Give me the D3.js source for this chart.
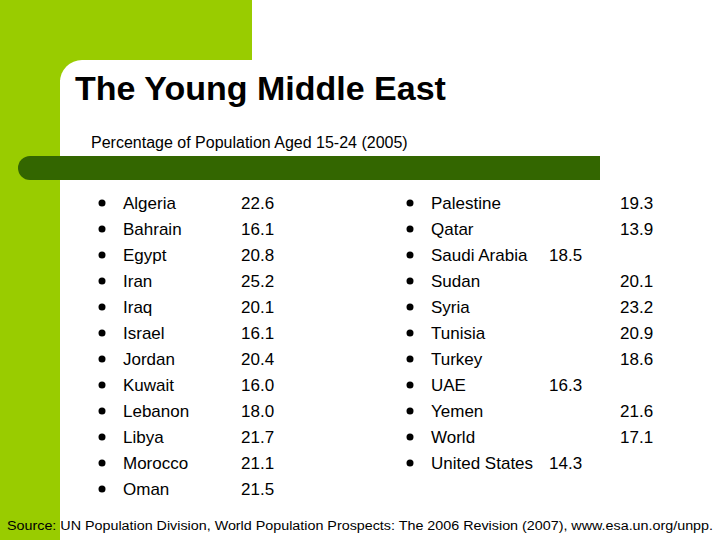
<!DOCTYPE html>
<html><head><meta charset="utf-8">
<script src="https://cdn.jsdelivr.net/npm/d3@7"></script>
<style>body{margin:0}svg{display:block}text{font-family:"Liberation Sans",Arial,sans-serif}</style>
</head><body><svg id="c" width="720" height="540"></svg>
<script>
const leftNames=["Algeria","Bahrain","Egypt","Iran","Iraq","Israel","Jordan","Kuwait","Lebanon","Libya","Morocco","Oman"];
const leftValues=["22.6","16.1","20.8","25.2","20.1","16.1","20.4","16.0","18.0","21.7","21.1","21.5"];
const rightNames=["Palestine","Qatar","Saudi Arabia","Sudan","Syria","Tunisia","Turkey","UAE","Yemen","World","United States"];
const rightValues=["19.3","13.9","18.5","20.1","23.2","20.9","18.6","16.3","21.6","17.1","14.3"];
const rightInline=[false,false,true,false,false,false,false,true,false,false,true];

const svg=d3.select("#c");
svg.append("rect").attr("width",720).attr("height",540).attr("fill","#fff");
svg.append("rect").attr("x",0).attr("y",0).attr("width",252).attr("height",80).attr("fill","#99cc00");
svg.append("rect").attr("x",0).attr("y",0).attr("width",60).attr("height",540).attr("fill","#99cc00");
svg.append("rect").attr("x",60).attr("y",60).attr("width",700).attr("height",520).attr("rx",22).attr("fill","#fff");
svg.append("rect").attr("x",60).attr("y",100).attr("width",700).attr("height",460).attr("fill","#fff");
svg.append("rect").attr("x",18).attr("y",156).attr("width",600).attr("height",24).attr("rx",12).attr("fill","#336600");
svg.append("rect").attr("x",560).attr("y",156).attr("width",40).attr("height",24).attr("fill","#336600");
svg.append("rect").attr("x",600).attr("y",150).attr("width",40).attr("height",40).attr("fill","#fff");

svg.append("text").attr("x",75).attr("y",100).attr("font-size",34).attr("font-weight","bold").text("The Young Middle East");
svg.append("text").attr("x",91).attr("y",148).attr("font-size",16).text("Percentage of Population Aged 15-24 (2005)");

const y=d3.scaleLinear().domain([0,1]).range([209,235]);
const lg=svg.append("g").attr("font-size",17);
leftNames.forEach((n,i)=>{
  lg.append("circle").attr("cx",102).attr("cy",y(i)-6).attr("r",3.5).attr("fill","#000");
  lg.append("text").attr("x",123).attr("y",y(i)).text(n);
  lg.append("text").attr("x",241).attr("y",y(i)).text(leftValues[i]);
});
rightNames.forEach((n,i)=>{
  lg.append("circle").attr("cx",410).attr("cy",y(i)-6).attr("r",3.5).attr("fill","#000");
  lg.append("text").attr("x",431).attr("y",y(i)).text(n);
  lg.append("text").attr("x",rightInline[i]?549:620).attr("y",y(i)).text(rightValues[i]);
});
svg.append("text").attr("x",7).attr("y",530).attr("font-size",12.5).attr("textLength",706).attr("lengthAdjust","spacingAndGlyphs")
 .text("Source: UN Population Division, World Population Prospects: The 2006 Revision (2007), www.esa.un.org/unpp.");
</script></body></html>
